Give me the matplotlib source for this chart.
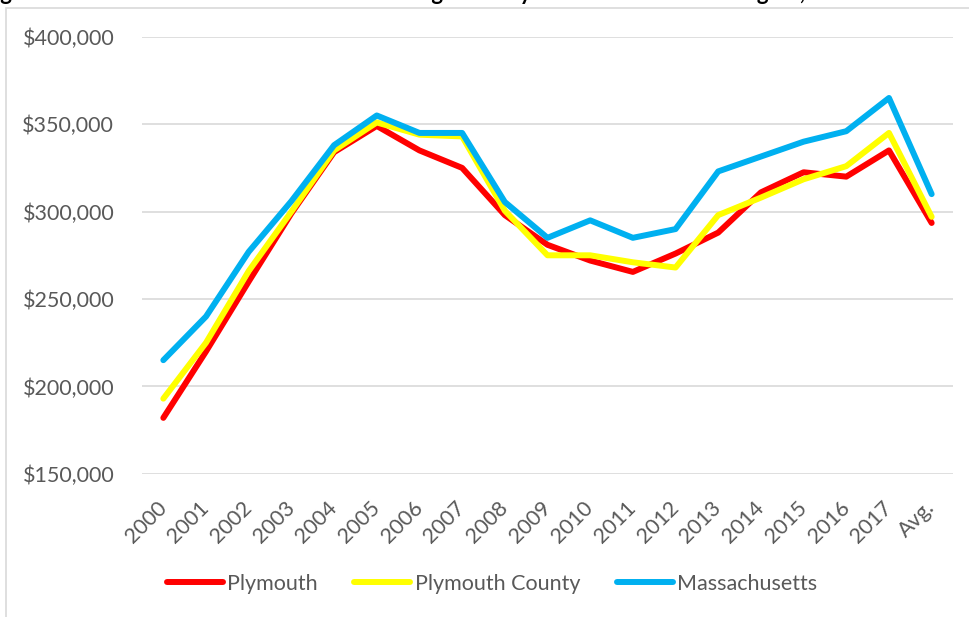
import matplotlib.pyplot as plt
from matplotlib.patches import Rectangle
from matplotlib.ticker import FuncFormatter

# --- datos ---
anios = ['2000', '2001', '2002', '2003', '2004', '2005', '2006', '2007', '2008',
         '2009', '2010', '2011', '2012', '2013', '2014', '2015', '2016', '2017', 'Avg.']

plymouth = [182000, 220000, 260000, 299000, 334000, 349000, 335000, 325000, 298000,
            281000, 272000, 265500, 276000, 288000, 311000, 322500, 320000, 335000, 293500]
plymouth_county = [193000, 225000, 266000, 300000, 335000, 351000, 344000, 343000, 300500,
                   275000, 275000, 271000, 268000, 298000, 308000, 318500, 326000, 345000, 297000]
massachusetts = [215000, 240000, 277000, 306000, 338000, 355000, 345000, 345000, 305500,
                 285000, 295000, 285000, 290000, 323000, 331500, 340000, 346000, 365000, 310000]

series = [
    ('Plymouth', plymouth, '#FF0000'),
    ('Plymouth County', plymouth_county, '#FFFF00'),
    ('Massachusetts', massachusetts, '#00B0F0'),
]

plt.rcParams['font.family'] = ['Lato', 'DejaVu Sans']
gris_texto = '#595959'

fig = plt.figure(figsize=(9.7, 6.17), dpi=100)
ax = fig.add_axes([142 / 970, 1 - 473.8 / 617, 811 / 970, 437 / 617])

# marco del area del grafico (borde gris claro)
fig.patches.append(Rectangle((6 / 970, -0.05), 1.1, 1 - 8 / 617 + 0.05,
                             transform=fig.transFigure, fill=False,
                             edgecolor='#D9D9D9', linewidth=1.2, zorder=0))

# titulo cortado arriba (solo se ven los trazos descendentes)
fig.text(-18 / 970, 1 + 0.5 / 617,
         'Figure 4: Median Residential Sales Price \u2013 Single Family Homes in Town vs. Region, 2000\u20132017',
         fontsize=16, fontweight='bold', color='black', ha='left', va='baseline')

x = list(range(len(anios)))
for nombre, valores, color in series:
    ax.plot(x, valores, color=color, linewidth=4.3, label=nombre,
            solid_capstyle='round', solid_joinstyle='round')

ax.set_xlim(-0.5, len(anios) - 0.5)
ax.set_ylim(150000, 400000)
ax.set_yticks(range(150000, 400001, 50000))
ax.yaxis.set_major_formatter(FuncFormatter(lambda v, p: f'${v:,.0f}'))
ax.grid(axis='y', color='#D9D9D9', linewidth=1.2)
ax.set_axisbelow(True)
for s in ax.spines.values():
    s.set_visible(False)

ax.set_xticks(x)
ax.set_xticklabels(anios, rotation=45, ha='right', va='center', rotation_mode='anchor')
ax.tick_params(axis='x', length=0, pad=22, labelsize=15.5, labelcolor=gris_texto)
ax.tick_params(axis='y', length=0, pad=20, labelsize=15.5, labelcolor=gris_texto)

fig.legend(loc='center', bbox_to_anchor=(492 / 970, 1 - 584 / 617), ncol=3,
           frameon=False, fontsize=15.5, labelcolor=gris_texto,
           handlelength=2.6, handletextpad=0.2, columnspacing=1.7)

fig.savefig('out.png', dpi=100)
